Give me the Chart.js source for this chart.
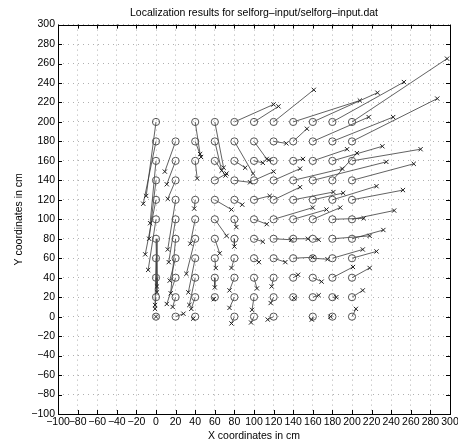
<!DOCTYPE html>
<html>
<head>
<meta charset="utf-8">
<script src="https://cdn.jsdelivr.net/npm/chart.js@4"></script>
<style>
  html, body { margin: 0; padding: 0; background: #fff; }
  #wrap { width: 458px; height: 448px; }
</style>
</head>
<body>
<div id="wrap"><canvas id="chart" width="458" height="448"></canvas></div>
<script>
// true node positions (circles), one line per grid column
const trueX = [
    0, 0, 0, 0, 0, 0, 0, 0, 0, 0, 0,
    20, 20, 20, 20, 20, 20, 20, 20, 20, 20,
    40, 40, 40, 40, 40, 40, 40, 40, 40, 40,
    60, 60, 60, 60, 60, 60, 60, 60, 60, 60,
    80, 80, 80, 80, 80, 80, 80, 80, 80, 80, 80,
    100, 100, 100, 100, 100, 100, 100, 100, 100, 100, 100,
    120, 120, 120, 120, 120, 120, 120, 120, 120, 120, 120,
    140, 140, 140, 140, 140, 140, 140, 140, 140, 140,
    160, 160, 160, 160, 160, 160, 160, 160, 160, 160, 160,
    180, 180, 180, 180, 180, 180, 180, 180, 180, 180, 180,
    200, 200, 200, 200, 200, 200, 200, 200, 200, 200, 200
];
const trueY = [
    200, 180, 160, 140, 120, 100, 80, 60, 40, 20, 0,
    180, 160, 140, 120, 100, 80, 60, 40, 20, 0,
    200, 180, 160, 120, 100, 80, 60, 40, 20, 0,
    200, 180, 160, 140, 120, 100, 80, 60, 40, 20,
    200, 180, 160, 140, 120, 100, 80, 60, 40, 20, 0,
    200, 180, 160, 140, 120, 100, 80, 60, 40, 20, 0,
    200, 180, 160, 140, 120, 100, 80, 60, 40, 20, 0,
    200, 180, 160, 140, 120, 100, 80, 60, 40, 20,
    200, 180, 160, 140, 120, 100, 80, 60, 40, 20, 0,
    200, 180, 160, 140, 120, 100, 80, 60, 40, 20, 0,
    200, 180, 160, 140, 120, 100, 80, 60, 40, 20, 0
];
// estimated positions (crosses), same order
const estX = [
    -10, -13, -6, -7, -11, -8, 1, -1, 1, -1, 0,
    9, 11, 12, 12, 13, 15, 14, 11, 17, 28,
    45, 46, 42, 39, 35, 31, 33, 34, 36, 38,
    69, 67, 71, 72, 77, 72, 65, 61, 60, 59,
    120, 99, 91, 96, 88, 82, 80, 77, 75, 75, 77,
    125, 113, 109, 120, 116, 113, 109, 105, 103, 98, 97,
    161, 133, 115, 147, 147, 160, 138, 132, 118, 117, 114,
    208, 154, 150, 190, 181, 174, 155, 160, 145, 141,
    226, 217, 195, 235, 191, 188, 166, 175, 169, 166, 159,
    253, 242, 231, 205, 225, 212, 218, 211, 201, 184, 178,
    297, 287, 270, 263, 252, 243, 232, 225, 218, 211, 204
];
const estY = [
    124, 116, 96, 80, 64, 48, 31, 8, 25, 12, 0,
    149, 136, 121, 69, 56, 24, 37, 13, 10, 3,
    167, 164, 142, 111, 75, 44, 25, 12, 8, -2,
    153, 150, 145, 147, 110, 83, 65, 50, 30, 18,
    218, 147, 153, 138, 115, 92, 72, 50, 27, 9, -7,
    216, 162, 158, 149, 124, 95, 77, 56, 29, 7, -6,
    233, 178, 161, 152, 133, 112, 79, 56, 31, 14, -3,
    222, 193, 162, 152, 128, 110, 80, 61, 43, 19,
    230, 205, 172, 159, 127, 112, 79, 59, 36, 22, -3,
    241, 205, 175, 168, 134, 101, 83, 69, 51, 20, 0,
    265, 224, 172, 157, 130, 109, 89, 67, 50, 27, 8
];
const axisMin = -100;
const axisMax = 300;
const axisStep = 20;

const chartTitle = 'Localization results for selforg\u2013input/selforg\u2013input.dat';
const xTitle = 'X coordinates in cm';
const yTitle = 'Y coordinates in cm';

const FONT = '"Liberation Sans", Arial, Helvetica, sans-serif';
const FONT_SIZE = 10.5;

const tickValues = [];
for (let v = axisMin; v <= axisMax; v += axisStep) tickValues.push(v);

const circles = trueX.map((x, i) => ({ x: x, y: trueY[i] }));
const crosses = estX.map((x, i) => ({ x: x, y: estY[i] }));
// every link is true -> estimated, then a gap
const links = [];
trueX.forEach((x, i) => {
    links.push({ x: x, y: trueY[i] });
    links.push({ x: estX[i], y: estY[i] });
    links.push({ x: estX[i], y: null });
});

function fmt(v) {
    return String(v).replace('-', '\u2212');
}

// box around the plot and inward tick marks, like matlab
const framePlugin = {
    id: 'frame',
    afterDraw(chart) {
        const { ctx, chartArea: a, scales } = chart;
        ctx.save();
        ctx.strokeStyle = '#000';
        ctx.lineWidth = 1;
        ctx.beginPath();
        tickValues.forEach(v => {
            const px = Math.round(scales.x.getPixelForValue(v)) + 0.5;
            ctx.moveTo(px, a.bottom); ctx.lineTo(px, a.bottom - 4);
            ctx.moveTo(px, a.top); ctx.lineTo(px, a.top + 4);
            const py = Math.round(scales.y.getPixelForValue(v)) + 0.5;
            ctx.moveTo(a.left, py); ctx.lineTo(a.left + 4, py);
            ctx.moveTo(a.right, py); ctx.lineTo(a.right - 4, py);
        });
        ctx.stroke();
        ctx.strokeRect(Math.round(a.left) + 0.5, Math.round(a.top) + 0.5,
            Math.round(a.right - a.left), Math.round(a.bottom - a.top));
        ctx.restore();
    }
};

function fixedBox(size, horizontal) {
    return function (scale) {
        if (horizontal) scale.height = size; else scale.width = size;
        scale.paddingLeft = 0;
        scale.paddingRight = 0;
        scale.paddingTop = 0;
        scale.paddingBottom = 0;
    };
}

const ctx = document.getElementById('chart').getContext('2d');
new Chart(ctx, {
    type: 'scatter',
    data: {
        datasets: [
            {
                label: 'links',
                data: links,
                showLine: true,
                spanGaps: false,
                borderColor: '#3a3a3a',
                borderWidth: 0.8,
                pointRadius: 0,
                fill: false,
                order: 3
            },
            {
                label: 'true',
                data: circles,
                pointStyle: 'circle',
                pointRadius: 3.6,
                borderColor: '#555',
                borderWidth: 1,
                backgroundColor: 'rgba(0,0,0,0)',
                order: 2
            },
            {
                label: 'estimated',
                data: crosses,
                pointStyle: 'crossRot',
                pointRadius: 3,
                borderColor: '#222',
                borderWidth: 1,
                order: 1
            }
        ]
    },
    options: {
        responsive: false,
        animation: false,
        devicePixelRatio: 1,
        layout: { padding: { left: 0, right: 8, top: 0, bottom: 0 } },
        plugins: {
            legend: { display: false },
            tooltip: { enabled: false },
            title: {
                display: true,
                fullSize: false, // centre over the plot box only
                text: chartTitle,
                color: '#000',
                font: { family: FONT, size: FONT_SIZE, weight: 'normal' },
                padding: { top: 7, bottom: 5 }
            }
        },
        scales: {
            x: {
                type: 'linear',
                min: axisMin,
                max: axisMax,
                afterFit: fixedBox(34, true),
                afterBuildTicks: s => { s.ticks = tickValues.map(v => ({ value: v })); },
                ticks: {
                    autoSkip: false,
                    maxRotation: 0,
                    padding: 2,
                    color: '#000',
                    font: { family: FONT, size: FONT_SIZE },
                    callback: v => fmt(v)
                },
                grid: { color: '#b0b0b0', lineWidth: 1, drawTicks: false },
                border: { display: false, dash: [1, 4] },
                title: {
                    display: true,
                    text: xTitle,
                    color: '#000',
                    font: { family: FONT, size: FONT_SIZE },
                    padding: { top: 0, bottom: 6 }
                }
            },
            y: {
                type: 'linear',
                min: axisMin,
                max: axisMax,
                afterFit: fixedBox(58, false),
                afterBuildTicks: s => { s.ticks = tickValues.map(v => ({ value: v })); },
                ticks: {
                    autoSkip: false,
                    padding: 3,
                    color: '#000',
                    font: { family: FONT, size: FONT_SIZE },
                    callback: v => fmt(v)
                },
                grid: { color: '#b0b0b0', lineWidth: 1, drawTicks: false },
                border: { display: false, dash: [1, 4] },
                title: {
                    display: true,
                    text: yTitle,
                    color: '#000',
                    font: { family: FONT, size: FONT_SIZE },
                    padding: { top: 13, bottom: 0 }
                }
            }
        }
    },
    plugins: [framePlugin]
});
</script>
</body>
</html>
